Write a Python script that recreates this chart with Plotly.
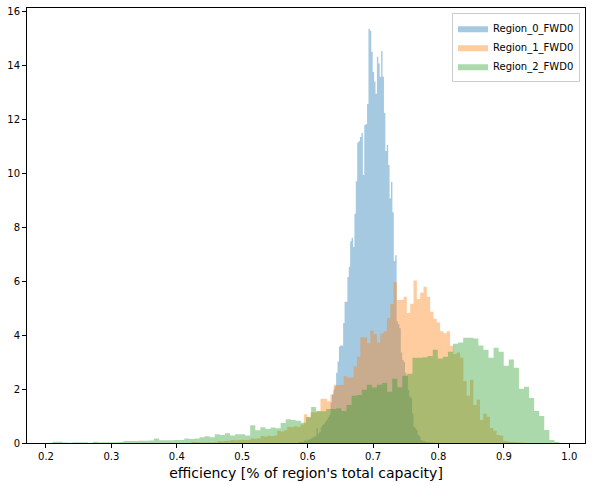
import plotly.graph_objects as go

# histogram bins (density), one set per region
REGION_NAMES = ["Region_0_FWD0", "Region_1_FWD0", "Region_2_FWD0"]
BIN_STARTS = [0.5855, 0.4215, 0.210]
BIN_WIDTHS = [0.00215, 0.00508, 0.00775]

region_0 = [
    0.02, 0.04, 0.05, 0.03, 0.10, 0.08, 0.13, 0.12, 0.15, 0.17,
    0.20, 0.23, 0.25, 0.55, 0.35, 0.40, 0.58, 0.67, 0.70, 0.79,
    0.86, 0.95, 1.04, 1.50, 1.80, 1.97, 2.10, 2.60, 3.02, 3.58,
    3.62, 3.60, 4.45, 5.23, 5.23, 6.15, 6.53, 7.48, 7.61, 7.26,
    8.50, 9.70, 11.14, 11.19, 11.34, 11.49, 9.93, 11.78, 11.82, 12.56,
    15.35, 15.28, 14.50, 13.75, 13.40, 12.94, 14.31, 14.06, 13.57, 14.53,
    13.57, 12.23, 10.82, 11.04, 10.30, 9.07, 9.67, 8.55, 6.74, 6.96,
    4.50, 4.40, 4.25, 3.35, 3.08, 3.00, 2.60, 2.50, 1.97, 1.72,
    1.66, 1.10, 0.60, 0.55, 0.48, 0.30, 0.24, 0.11, 0.08, 0.07,
    0.05, 0.04, 0.04, 0.03, 0.03, 0.02, 0.02, 0.01, 0.01, 0.01,
]

region_1 = [
    0.04, 0.04, 0.03, 0.02, 0.02, 0.03, 0.02, 0.03, 0.07, 0.06,
    0.07, 0.08, 0.11, 0.10, 0.11, 0.12, 0.11, 0.12, 0.17, 0.16,
    0.18, 0.26, 0.24, 0.27, 0.26, 0.28, 0.45, 0.43, 0.47, 0.60,
    0.58, 0.62, 0.60, 0.69, 1.07, 0.97, 1.14, 1.14, 1.19, 1.64,
    1.64, 1.55, 1.80, 2.16, 2.15, 2.15, 2.47, 2.43, 2.43, 2.84,
    3.20, 3.92, 3.92, 3.70, 4.16, 4.04, 3.72, 4.06, 4.14, 4.63,
    5.15, 5.97, 5.30, 5.30, 5.42, 4.82, 5.16, 6.02, 5.34, 5.57,
    5.79, 5.42, 4.86, 4.60, 4.47, 4.14, 4.07, 4.14, 3.60, 3.30,
    3.35, 3.16, 2.30, 1.75, 2.34, 1.41, 1.60, 0.85, 1.08, 0.97,
    0.56, 0.45, 0.30, 0.28, 0.08, 0.06, 0.04, 0.04, 0.03, 0.02,
]

region_2 = [
    0.05, 0.05, 0.02, 0.01, 0.03, 0.03, 0.03, 0.01, 0.05, 0.03,
    0.03, 0.03, 0.03, 0.04, 0.07, 0.07, 0.07, 0.08, 0.08, 0.09,
    0.17, 0.10, 0.10, 0.10, 0.11, 0.11, 0.17, 0.15, 0.17, 0.21,
    0.25, 0.21, 0.32, 0.30, 0.36, 0.28, 0.32, 0.32, 0.28, 0.66,
    0.47, 0.58, 0.52, 0.57, 0.55, 0.74, 0.88, 0.85, 0.82, 0.75,
    0.95, 1.33, 1.18, 1.18, 1.26, 1.26, 1.29, 1.19, 1.41, 1.75,
    1.78, 1.97, 2.16, 2.06, 2.16, 2.22, 1.90, 2.38, 2.07, 2.49,
    2.57, 3.16, 3.16, 3.18, 3.22, 3.46, 3.13, 3.20, 3.38, 3.68,
    3.72, 3.90, 3.90, 3.87, 3.61, 3.46, 3.16, 3.53, 3.38, 2.86,
    3.09, 2.79, 2.01, 2.08, 1.67, 1.19, 1.00, 0.48, 0.11, 0.04,
]

# tab10 colours at alpha 0.4, like matplotlib's hist(alpha=0.4)
FILLS = ["rgba(31,119,180,0.4)", "rgba(255,127,14,0.4)", "rgba(44,160,44,0.4)"]

fig = go.Figure()
for name, start, width, heights, fill in zip(
        REGION_NAMES, BIN_STARTS, BIN_WIDTHS, [region_0, region_1, region_2], FILLS):
    # step outline: each bin holds its height from its left edge to the next edge
    edges = [start + i * width for i in range(len(heights) + 1)]
    fig.add_trace(go.Scatter(
        x=edges, y=heights + heights[-1:], name=name,
        mode="lines", line=dict(shape="hv", width=0, color=fill),
        fill="tozeroy", fillcolor=fill, hoverinfo="skip",
    ))

fig.update_layout(
    width=592, height=486,
    margin=dict(l=27, r=7, t=8, b=43),
    plot_bgcolor="white", paper_bgcolor="white",
    font=dict(family="DejaVu Sans", size=10, color="black"),
    showlegend=True,
    legend=dict(
        x=0.991, y=0.989, xanchor="right", yanchor="top",
        bgcolor="rgba(255,255,255,0.8)", bordercolor="#cccccc", borderwidth=1,
        font=dict(size=10), traceorder="normal", tracegroupgap=0,
        itemwidth=30,
    ),
    xaxis=dict(
        range=[0.171, 1.024], tickmode="linear", tick0=0.2, dtick=0.1, tickformat=".1f",
        showgrid=False, zeroline=False, showline=True, mirror=True, linecolor="black",
        linewidth=1, ticks="outside", ticklen=4, tickcolor="black",
        title=dict(text="efficiency [% of region's total capacity]", font=dict(size=14),
                   standoff=7),
    ),
    yaxis=dict(
        range=[0, 16.12], tickmode="linear", tick0=0, dtick=2,
        showgrid=False, zeroline=False, showline=True, mirror=True, linecolor="black",
        linewidth=1, ticks="outside", ticklen=4, tickcolor="black",
    ),
)

# drop the page's default body margin so the figure sits at the window corner
fig.write_html("out.html", config={"displayModeBar": False},
               post_script="document.body.style.margin='0';")
